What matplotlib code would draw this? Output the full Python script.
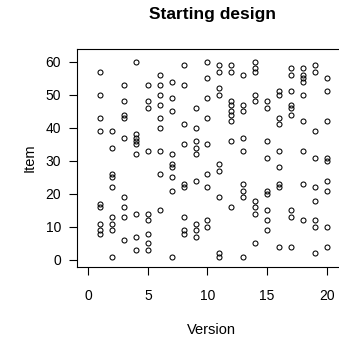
import matplotlib
matplotlib.use("Agg")
import matplotlib.pyplot as plt
import numpy as np

plt.rcParams['font.family'] = ['Liberation Sans', 'DejaVu Sans']

# items shown for each version
item_v01 = [57, 50, 43, 39, 17, 16, 11, 9, 8]
item_v02 = [39, 34, 26, 25, 22, 13, 11, 9, 1]
item_v03 = [53, 48, 44, 43, 37, 19, 16, 13, 6]
item_v04 = [60, 38, 37, 36, 35, 32, 14, 7, 3]
item_v05 = [53, 48, 46, 33, 14, 12, 8, 5, 3]
item_v06 = [56, 53, 50, 47, 43, 40, 33, 26, 15]
item_v07 = [54, 49, 45, 32, 29, 28, 25, 21, 1]
item_v08 = [59, 53, 41, 35, 23, 22, 13, 9, 8]
item_v09 = [46, 40, 36, 34, 32, 24, 11, 9, 7]
item_v10 = [60, 55, 49, 43, 35, 26, 22, 12, 10]
item_v11 = [59, 57, 52, 50, 29, 27, 19, 2, 1]
item_v12 = [59, 57, 48, 47, 45, 44, 42, 36, 16]
item_v13 = [56, 47, 45, 37, 33, 23, 21, 19, 1]
item_v14 = [60, 58, 57, 50, 48, 18, 16, 14, 5]
item_v15 = [48, 46, 36, 31, 21, 20, 15, 12, 9]
item_v16 = [51, 50, 43, 41, 33, 28, 23, 22, 4]
item_v17 = [58, 56, 51, 47, 46, 44, 15, 13, 4]
item_v18 = [58, 56, 55, 54, 50, 42, 33, 23, 12]
item_v19 = [59, 57, 39, 31, 22, 18, 12, 10, 2]
item_v20 = [55, 51, 42, 31, 30, 24, 21, 10, 4]

design = [item_v01, item_v02, item_v03, item_v04, item_v05, item_v06, item_v07,
          item_v08, item_v09, item_v10, item_v11, item_v12, item_v13, item_v14,
          item_v15, item_v16, item_v17, item_v18, item_v19, item_v20]

x_ticks = [0, 5, 10, 15, 20]
y_ticks = [0, 10, 20, 30, 40, 50, 60]

W, H = 339, 338
fig = plt.figure(figsize=(W / 100, H / 100), dpi=100)
# plot box runs past the right edge of the picture (cropped in the original)
left, right, top, bottom = 77.3, 342.0, 49.3, 267.3
ax = fig.add_axes([left / W, 1 - bottom / H, (right - left) / W, (bottom - top) / H])

for v, items in enumerate(design, start=1):
    ax.plot([v] * len(items), items, linestyle='none', marker='o',
            markersize=3.6, markerfacecolor='none', markeredgecolor='black',
            markeredgewidth=0.75)

ax.set_xlim(-0.92, 20 + (right - 326.7) / 11.92)
ax.set_ylim(-2.21, 63.75)
ax.set_xticks(x_ticks)
ax.set_yticks(y_ticks)
ax.tick_params(direction='out', length=5.8, width=0.8, labelsize=10, pad=10)
ax.tick_params(axis='y', pad=6)
for s in ax.spines.values():
    s.set_linewidth(0.8)

fig.text(212 / W, 1 - 15 / H, 'Starting design', ha='center', va='center',
         fontsize=12.5, fontweight='bold')
fig.text(211 / W, 1 - 330 / H, 'Version', ha='center', va='center', fontsize=10.5)
fig.text(30 / W, 1 - 158 / H, 'Item', ha='center', va='center', rotation=90,
         fontsize=10.5)

fig.savefig('out.png', dpi=100)
